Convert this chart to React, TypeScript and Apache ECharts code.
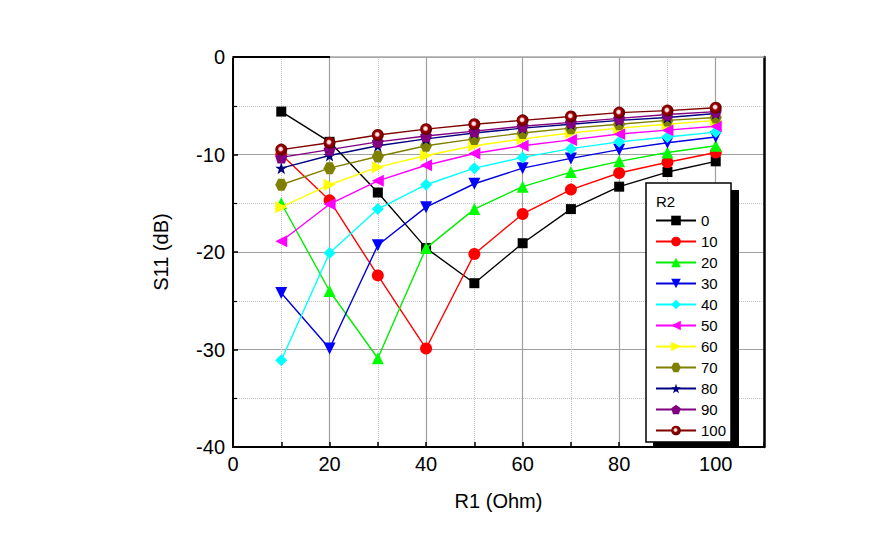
import React, { useEffect, useRef } from "react";
import * as echarts from "echarts";

const r1Values = [10, 20, 30, 40, 50, 60, 70, 80, 90, 100];
const r2Names = ["0", "10", "20", "30", "40", "50", "60", "70", "80", "90", "100"];
const xTickLabels = ["0", "20", "40", "60", "80", "100"];

const s11_r2_0 = [-5.6, -8.7, -13.9, -19.6, -23.2, -19.1, -15.6, -13.3, -11.8, -10.7];
const s11_r2_10 = [-10.0, -14.7, -22.4, -29.9, -20.2, -16.1, -13.6, -11.9, -10.8, -9.8];
const s11_r2_20 = [-15.0, -24.0, -30.9, -19.6, -15.6, -13.3, -11.8, -10.7, -9.8, -9.1];
const s11_r2_30 = [-24.2, -29.9, -19.3, -15.4, -13.0, -11.4, -10.4, -9.5, -8.8, -8.2];
const s11_r2_40 = [-31.1, -20.1, -15.6, -13.1, -11.4, -10.3, -9.4, -8.7, -8.2, -7.7];
const s11_r2_50 = [-18.9, -15.1, -12.7, -11.1, -9.9, -9.1, -8.5, -7.9, -7.5, -7.1];
const s11_r2_60 = [-15.4, -13.1, -11.3, -10.1, -9.1, -8.4, -7.8, -7.3, -6.9, -6.5];
const s11_r2_70 = [-13.1, -11.4, -10.2, -9.1, -8.4, -7.8, -7.3, -6.9, -6.5, -6.2];
const s11_r2_80 = [-11.4, -10.1, -9.1, -8.4, -7.8, -7.3, -6.9, -6.5, -6.2, -5.8];
const s11_r2_90 = [-10.3, -9.5, -8.7, -8.1, -7.6, -7.1, -6.7, -6.3, -5.9, -5.6];
const s11_r2_100 = [-9.5, -8.8, -8.0, -7.4, -6.9, -6.5, -6.1, -5.7, -5.5, -5.2];

const allSeries = [
  s11_r2_0, s11_r2_10, s11_r2_20, s11_r2_30, s11_r2_40, s11_r2_50,
  s11_r2_60, s11_r2_70, s11_r2_80, s11_r2_90, s11_r2_100,
];

const STAR = "path://M0,-10L2.35,-3.24L9.51,-3.09L3.8,1.24L5.88,8.09L0,4L-5.88,8.09L-3.8,1.24L-9.51,-3.09L-2.35,-3.24Z";
const PENT = "path://M0,-10L9.51,-3.09L5.88,8.09L-5.88,8.09L-9.51,-3.09Z";
const HEX = "path://M-5,-8.66L5,-8.66L10,0L5,8.66L-5,8.66L-10,0Z";

const sphere = {
  type: "radial", x: 0.45, y: 0.45, r: 0.55,
  colorStops: [
    { offset: 0, color: "#ffffff" },
    { offset: 0.25, color: "#f0d0d0" },
    { offset: 0.45, color: "#a00000" },
    { offset: 1, color: "#5a0000" },
  ],
};

const styles = [
  { line: "#000000", fill: "#000000", symbol: "rect", rot: 0, size: 10 },
  { line: "#ff0000", fill: "#ff0000", symbol: "circle", rot: 0, size: 12 },
  { line: "#00ee00", fill: "#00ff00", symbol: "triangle", rot: 0, size: 12 },
  { line: "#0000dd", fill: "#0000ff", symbol: "triangle", rot: 180, size: 12 },
  { line: "#00ffff", fill: "#00ffff", symbol: "diamond", rot: 0, size: 12 },
  { line: "#ff00ff", fill: "#ff00ff", symbol: "triangle", rot: 90, size: 12 },
  { line: "#ffff00", fill: "#ffff00", symbol: "triangle", rot: -90, size: 12 },
  { line: "#808000", fill: "#808000", symbol: HEX, rot: 0, size: 12 },
  { line: "#000080", fill: "#000080", symbol: STAR, rot: 0, size: 12 },
  { line: "#800080", fill: "#800080", symbol: PENT, rot: 0, size: 12 },
  { line: "#800000", fill: sphere, symbol: "circle", rot: 0, size: 12 },
];

const FONT = "'Liberation Sans', Arial, sans-serif";

export default function App() {
  const ref = useRef<HTMLDivElement>(null);
  useEffect(() => {
    if (!ref.current) return;
    const chart = echarts.init(ref.current, null, { renderer: "svg" });
    const series = allSeries.map((vals, i) => ({
      name: r2Names[i],
      type: "line",
      xAxisIndex: 0,
      yAxisIndex: 0,
      data: r1Values.map((x, j) => [x, vals[j]]),
      symbol: styles[i].symbol,
      symbolRotate: styles[i].rot,
      symbolSize: styles[i].size,
      lineStyle: { color: styles[i].line, width: 1.4 },
      itemStyle: { color: styles[i].fill, borderWidth: 0 },
      z: 3 + i,
    }));
    chart.setOption({
      animation: false,
      backgroundColor: "#ffffff",
      textStyle: { fontFamily: FONT },
      grid: { left: 233, top: 57, width: 531, height: 390, containLabel: false },
      xAxis: [
        {
          type: "value", position: "bottom", min: 0, max: 110, interval: 10,
          name: "R1 (Ohm)", nameLocation: "middle", nameGap: 44,
          nameTextStyle: { fontSize: 20, color: "#000", fontFamily: FONT },
          axisLine: { show: true, onZero: false, lineStyle: { color: "#000", width: 2 } },
          axisTick: { show: true, inside: true, length: 5, lineStyle: { color: "#000", width: 1.5 } },
          axisLabel: {
            fontSize: 20, color: "#000", margin: 7, fontFamily: FONT,
            formatter: (v: number) => (xTickLabels.includes(String(v)) ? String(v) : ""),
          },
          splitLine: { show: true, lineStyle: { color: "#c4c4c4", type: "dotted", width: 1 } },
        },
        {
          type: "value", position: "top", min: 0, max: 110, interval: 20,
          axisLine: { show: true, lineStyle: { color: "#a8a8a8", width: 1.5 } },
          axisTick: { show: false },
          axisLabel: { show: false },
          splitLine: { show: true, lineStyle: { color: "#a0a0a0", type: "solid", width: 1.2 } },
        },
      ],
      yAxis: [
        {
          type: "value", position: "left", min: -40, max: 0, interval: 10,
          name: "S11 (dB)", nameLocation: "middle", nameGap: 62,
          nameTextStyle: { fontSize: 20, color: "#000", fontFamily: FONT },
          axisLine: { show: true, onZero: false, lineStyle: { color: "#000", width: 2 } },
          axisTick: { show: true, inside: true, length: 5, lineStyle: { color: "#000", width: 1.5 } },
          minorTick: { show: true, splitNumber: 2, length: 4, lineStyle: { color: "#000", width: 1.2 } },
          axisLabel: { fontSize: 20, color: "#000", margin: 8, fontFamily: FONT },
          splitLine: { show: true, lineStyle: { color: "#a0a0a0", type: "solid", width: 1.2 } },
          minorSplitLine: { show: true, lineStyle: { color: "#c4c4c4", type: "dotted", width: 1 } },
        },
        {
          type: "value", position: "right", min: -40, max: 0, interval: 10,
          axisLine: { show: true, onZero: false, lineStyle: { color: "#000", width: 2.5 } },
          axisTick: { show: false },
          axisLabel: { show: false },
          splitLine: { show: false },
        },
      ],
      legend: {
        orient: "vertical",
        left: 655,
        top: 213,
        padding: 0,
        itemWidth: 40,
        itemHeight: 12,
        itemGap: 6,
        z: 20,
        data: r2Names,
        textStyle: { fontSize: 15, lineHeight: 15, color: "#000", fontFamily: FONT, padding: [0, 0, 0, 0] },
      },
      graphic: [
        {
          type: "line", z: 10,
          shape: { x1: 233, y1: 57, x2: 330, y2: 57 },
          style: { stroke: "#000", lineWidth: 2 },
        },
        {
          type: "rect", z: 10,
          shape: { x: 653, y: 190, width: 86, height: 257 },
          style: { fill: "#000" },
        },
        {
          type: "rect", z: 11,
          shape: { x: 646, y: 183, width: 85, height: 259 },
          style: { fill: "#fff", stroke: "#000", lineWidth: 1.5 },
        },
        {
          type: "text", z: 12, x: 656, y: 194,
          style: { text: "R2", fontSize: 15, fill: "#000", fontFamily: FONT },
        },
      ],
      series,
    });
    return () => chart.dispose();
  }, []);
  return (
    <div
      ref={ref}
      style={{ position: "absolute", left: 0, top: 0, width: 894, height: 552, background: "#fff" }}
    />
  );
}
